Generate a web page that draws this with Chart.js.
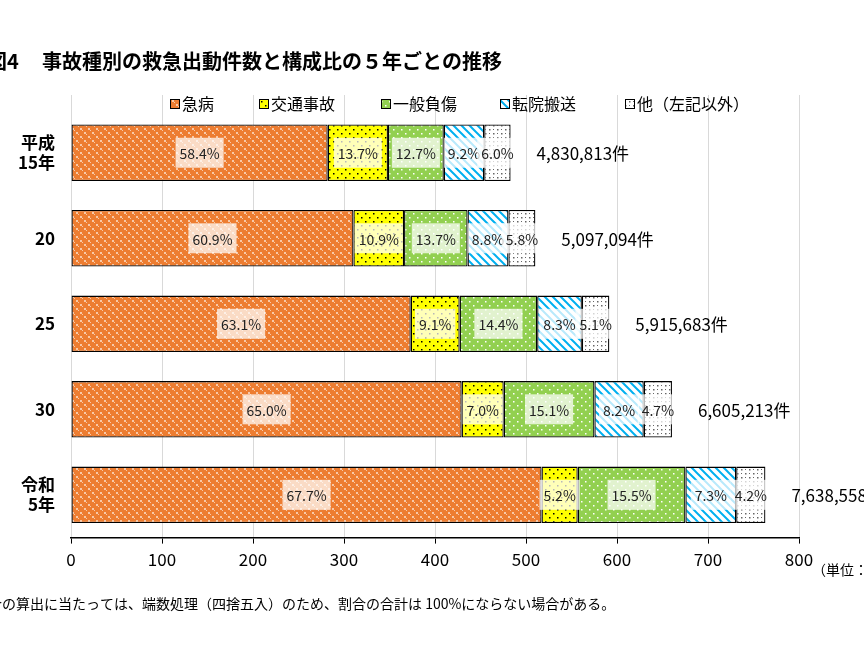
<!DOCTYPE html>
<html><head><meta charset="utf-8">
<script src="https://cdn.jsdelivr.net/npm/chart.js@4/dist/chart.umd.min.js"></script>
<style>html,body{margin:0;padding:0;background:#fff}#w{width:864px;height:648px}</style>
</head><body><div id="w"><canvas id="c"></canvas></div>
<script>
const categories = [['平成','15年'], ['20'], ['25'], ['30'], ['令和','5年']];
const seriesNames = ['急病','交通事故','一般負傷','転院搬送','他（左記以外）'];
const kyubyo  = [282.1, 310.4, 373.3, 429.3, 517.1];
const kotsu   = [66.2, 55.6, 53.8, 46.2, 39.7];
const ippan   = [61.4, 69.8, 85.2, 99.7, 118.4];
const tenin   = [44.4, 44.9, 49.1, 54.2, 55.8];
const sonota  = [29.0, 29.6, 30.2, 31.0, 32.1];
const pctKyubyo = ['58.4%','60.9%','63.1%','65.0%','67.7%'];
const pctKotsu  = ['13.7%','10.9%','9.1%','7.0%','5.2%'];
const pctIppan  = ['12.7%','13.7%','14.4%','15.1%','15.5%'];
const pctTenin  = ['9.2%','8.8%','8.3%','8.2%','7.3%'];
const pctSonota = ['6.0%','5.8%','5.1%','4.7%','4.2%'];
const totals = ['4,830,813件','5,097,094件','5,915,683件','6,605,213件','7,638,558件'];
const xTicks = [0,100,200,300,400,500,600,700,800];
const FONT = '"Noto Sans CJK JP","Noto Sans",sans-serif';

function pat(bg, draw){
  const c=document.createElement('canvas'); c.width=8; c.height=8;
  const g=c.getContext('2d'); g.fillStyle=bg; g.fillRect(0,0,8,8); draw(g);
  return g.createPattern(c,'repeat');
}
const pOrange = pat('#ED7D31', g=>{g.fillStyle='#F8C9A8';g.fillRect(0,0,2,2);g.fillRect(4,4,2,2);g.fillRect(2,2,1,1);g.fillRect(6,6,1,1);});
const pYellow = pat('#FFFF00', g=>{g.fillStyle='#000';g.fillRect(1,1,1.5,1.5);g.fillRect(5,5,1.5,1.5);});
const pGreen  = pat('#92D050', g=>{g.fillStyle='#fff';g.fillRect(1,1,1.5,1.5);g.fillRect(5,5,1.5,1.5);});
const pBlue   = pat('#fff', g=>{g.strokeStyle='#00B0F0';g.lineWidth=2;g.beginPath();g.moveTo(0,0);g.lineTo(8,8);g.moveTo(-4,4);g.lineTo(4,12);g.moveTo(4,-4);g.lineTo(12,4);g.stroke();});
const pGray   = pat('#fff', g=>{g.fillStyle='#666';g.fillRect(1,1,1.5,1.5);g.fillRect(5,5,1.5,1.5);g.fillRect(5,1,1,1);g.fillRect(1,5,1,1);});
const fills=[pOrange,pYellow,pGreen,pBlue,pGray];
const pcts=[pctKyubyo,pctKotsu,pctIppan,pctTenin,pctSonota];
const vals=[kyubyo,kotsu,ippan,tenin,sonota];

const textPlugin={id:'txt',
 beforeDatasetsDraw(ch){
  const ctx=ch.ctx, a=ch.chartArea; ctx.save();
  ctx.strokeStyle='#d9d9d9'; ctx.lineWidth=1;
  xTicks.forEach(v=>{const x=Math.round(ch.scales.x.getPixelForValue(v))+.5;
    ctx.beginPath(); ctx.moveTo(x,95); ctx.lineTo(x,a.top); ctx.stroke();});
  ctx.restore();
 },
 afterDatasetsDraw(ch){
  const ctx=ch.ctx; ctx.save();
  ctx.textBaseline='middle';
  for(let d=0; d<5; d++){
    const meta=ch.getDatasetMeta(d);
    meta.data.forEach((b,i)=>{
      const cx=(b.x+b.base)/2, cy=b.y;
      ctx.font='14px '+FONT;
      const t=pcts[d][i], w=ctx.measureText(t).width;
      ctx.fillStyle='rgba(255,255,255,0.72)';
      ctx.fillRect(cx-w/2-4, cy-15, w+8, 30);
      ctx.fillStyle='#222'; ctx.textAlign='center';
      ctx.fillText(t,cx,cy+1);
    });
  }
  const last=ch.getDatasetMeta(4);
  ctx.font='17px '+FONT; ctx.fillStyle='#000'; ctx.textAlign='left';
  last.data.forEach((b,i)=>ctx.fillText(totals[i], b.x+26, b.y+1));
  const lx=[170,259,381,500,625];
  ctx.font='16px '+FONT;
  seriesNames.forEach((n,i)=>{
    ctx.fillStyle=fills[i]; ctx.fillRect(lx[i],99,9,9);
    ctx.strokeStyle='#000'; ctx.lineWidth=1; ctx.strokeRect(lx[i]+.5,99.5,9,9);
    ctx.fillStyle='#000'; ctx.fillText(n, lx[i]+12, 104);
  });
  ctx.font='bold 20px '+FONT;
  ctx.fillText('図4', -13, 61);
  ctx.fillText('事故種別の救急出動件数と構成比の５年ごとの推移', 42, 61);
  ctx.font='14px '+FONT;
  ctx.fillText('（単位：万件）', 812, 570);
  ctx.font='14px '+FONT;
  ctx.fillText('合の算出に当たっては、端数処理（四捨五入）のため、割合の合計は 100%にならない場合がある。', -12, 604);
  ctx.restore();
}};

new Chart(document.getElementById('c'),{
  type:'bar',
  data:{labels:categories, datasets:seriesNames.map((n,i)=>({
    label:n, data:vals[i], backgroundColor:fills[i], borderColor:'#000', borderWidth:1.3,
    barPercentage:0.66, categoryPercentage:1.0, borderSkipped:false}))},
  options:{
    indexAxis:'y', responsive:true, maintainAspectRatio:false, animation:false,
    layout:{padding:{top:110,right:65,bottom:72,left:0}},
    plugins:{legend:{display:false}, tooltip:{enabled:false}},
    scales:{
      x:{stacked:true, min:0, max:800, afterBuildTicks(a){a.ticks=xTicks.map(v=>({value:v}));},
         grid:{color:'#d9d9d9', tickColor:'#000', tickLength:6, drawTicks:true},
         border:{color:'#000', width:1.5},
         ticks:{font:{size:17,family:FONT}, color:'#000', padding:6}},
      y:{stacked:true, afterFit(s){s.width=71;},
         grid:{display:false}, border:{display:false},
         ticks:{font:{size:17,weight:'bold',family:FONT}, color:'#000', padding:8}}
    }
  },
  plugins:[textPlugin]
});
</script></body></html>
